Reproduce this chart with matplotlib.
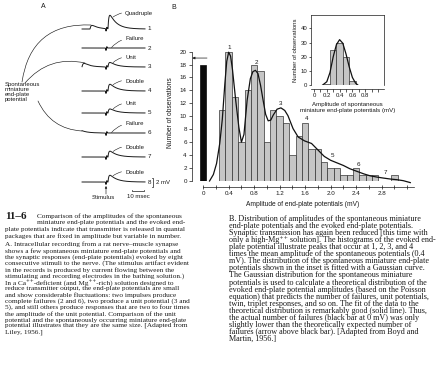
import numpy as np
import matplotlib
matplotlib.use('Agg')
import matplotlib.pyplot as plt
from matplotlib.ticker import MultipleLocator

W, H = 441, 373

# ── Data: evoked end-plate potential histogram (panel B) ─────────────────────
epp_bin_mv = [0.3, 0.4, 0.5, 0.6, 0.7, 0.8, 0.9, 1.0, 1.1, 1.2, 1.3, 1.4, 1.5, 1.6,
              1.7, 1.8, 1.9, 2.0, 2.1, 2.2, 2.3, 2.4, 2.5, 2.6, 2.7, 2.8, 2.9, 3.0]
epp_counts = [11, 20, 13, 6, 14, 18, 17, 6, 11, 10, 9, 4, 7, 9,
              5, 5, 3, 2, 2, 1, 1, 2, 1, 1, 1, 0, 0, 1]
failures_observed = 18
failures_expected = 19

fit_mv = [0.10, 0.16, 0.21, 0.26, 0.30, 0.34, 0.37, 0.40, 0.43, 0.46, 0.51, 0.56,
          0.60, 0.64, 0.69, 0.74, 0.78, 0.82, 0.86, 0.90, 0.94, 0.98, 1.02, 1.06,
          1.10, 1.16, 1.22, 1.28, 1.33, 1.41, 1.49, 1.59, 1.70, 1.80, 1.90, 2.00,
          2.10, 2.20, 2.30, 2.41, 2.52, 2.62, 2.73, 2.83, 2.94, 3.04, 3.14, 3.25]
fit_count = [0.0, 1.0, 2.7, 5.8, 9.5, 15.0, 18.5, 19.9, 19.3, 17.2, 12.5, 8.3,
             6.0, 7.2, 12.5, 15.8, 16.9, 17.1, 16.6, 14.8, 12.5, 10.3, 9.3, 9.4,
             10.2, 11.1, 11.3, 10.9, 10.1, 8.1, 6.8, 6.2, 5.8, 4.8, 3.8, 3.2,
             2.8, 2.4, 1.9, 1.5, 1.1, 0.8, 0.6, 0.45, 0.3, 0.2, 0.05, -0.25]

peak_names = ['1', '2', '3', '4', '5', '6', '7']
peak_mv = [0.41, 0.83, 1.22, 1.62, 2.03, 2.43, 2.86]
peak_count = [20.7, 18.3, 11.9, 9.6, 4.0, 2.5, 1.3]

# ── Data: spontaneous miniature potentials (inset) ───────────────────────────
mini_bin_mv = [0.2, 0.3, 0.4, 0.5, 0.6]
mini_counts = [1, 25, 30, 20, 3]
mini_fit_mv = [0.13, 0.20, 0.25, 0.30, 0.35, 0.40, 0.45, 0.50, 0.55, 0.60, 0.65, 0.69]
mini_fit_count = [0, 2.5, 9, 20, 28.5, 32, 29.5, 22, 13, 5.5, 1.5, 0]

# ── Data: panel A records ─────────────────────────────────────────────────────
trace_names = ['Quadruple', 'Failure', 'Unit', 'Double', 'Unit', 'Failure', 'Double', 'Double']
trace_amp_mv = [3.0, 0.0, 1.0, 1.5, 0.9, 0.0, 1.3, 1.5]
# spontaneous minis: (trace index, onset in px, amplitude mV)
minis = [(0, 90, 0.8), (2, 82, 0.8), (5, 77, 0.7)]

caption_title = [
    'Comparison of the amplitudes of the spontaneous',
    'miniature end-plate potentials and the evoked end-',
]
caption_left = [
    'plate potentials indicate that transmitter is released in quantal',
    'packages that are fixed in amplitude but variable in number.',
]
caption_a = [
    'A. Intracellular recording from a rat nerve\u2013muscle synapse',
    'shows a few spontaneous miniature end-plate potentials and',
    'the synaptic responses (end-plate potentials) evoked by eight',
    'consecutive stimuli to the nerve. (The stimulus artifact evident',
    'in the records is produced by current flowing between the',
    'stimulating and recording electrodes in the bathing solution.)',
    'In a Ca\u207a\u207a-deficient (and Mg\u207a\u207a-rich) solution designed to',
    'reduce transmitter output, the end-plate potentials are small',
    'and show considerable fluctuations: two impulses produce',
    'complete failures (2 and 6), two produce a unit potential (3 and',
    '5), and still others produce responses that are two to four times',
    'the amplitude of the unit potential. Comparison of the unit',
    'potential and the spontaneously occurring miniature end-plate',
    'potential illustrates that they are the same size. [Adapted from',
    'Liley, 1956.]',
]
caption_b = [
    'B. Distribution of amplitudes of the spontaneous miniature',
    'end-plate potentials and the evoked end-plate potentials.',
    'Synaptic transmission has again been reduced [this time with',
    'only a high-Mg\u207a\u207a solution]. The histograms of the evoked end-',
    'plate potential illustrate peaks that occur at 1, 2, 3, and 4',
    'times the mean amplitude of the spontaneous potentials (0.4',
    'mV). The distribution of the spontaneous miniature end-plate',
    'potentials shown in the inset is fitted with a Gaussian curve.',
    'The Gaussian distribution for the spontaneous miniature',
    'potentials is used to calculate a theoretical distribution of the',
    'evoked end-plate potential amplitudes (based on the Poisson',
    'equation) that predicts the number of failures, unit potentials,',
    'twin, triplet responses, and so on. The fit of the data to the',
    'theoretical distribution is remarkably good (solid line). Thus,',
    'the actual number of failures (black bar at 0 mV) was only',
    'slightly lower than the theoretically expected number of',
    'failures (arrow above black bar). [Adapted from Boyd and',
    'Martin, 1956.]',
]

SERIF = ['Liberation Serif', 'DejaVu Serif']
SANS = ['Liberation Sans', 'DejaVu Sans']
INK = '#1a1a1a'


def frac(x0, y0, x1, y1):
    return [x0 / W, 1 - y1 / H, (x1 - x0) / W, (y1 - y0) / H]


fig = plt.figure(figsize=(W / 100, H / 100), dpi=100)
fig.patch.set_facecolor('white')

# ── Panel A (drawn in pixel coordinates) ──────────────────────────────────────
axa = fig.add_axes([0, 0, 1, 1])
axa.set_xlim(0, W)
axa.set_ylim(H, 0)
axa.axis('off')

PX_PER_MV = 4.5
trace_base = [29, 48, 67, 91, 113, 133, 157, 182]
x = np.linspace(80, 145, 600)


def epp(xs, x0, amp, rise=0.9, decay=7.0):
    t = np.clip(xs - x0, 0, None)
    w = (1 - np.exp(-t / rise)) * np.exp(-t / decay)
    tt = np.linspace(0, 40, 2000)
    peak = ((1 - np.exp(-tt / rise)) * np.exp(-tt / decay)).max()
    return amp * w / peak


for i, (name, amp) in enumerate(zip(trace_names, trace_amp_mv)):
    base = trace_base[i]
    v = epp(x, 108.0, amp)
    for (ti, x0, a) in minis:
        if ti == i:
            v = v + epp(x, x0, a, rise=1.2, decay=6.0)
    # stimulus artifact
    v = v - 0.55 * np.exp(-((x - 106.0) / 0.35) ** 2) + 0.3 * np.exp(-((x - 106.9) / 0.3) ** 2)
    xs = x[x >= 82]
    vs = v[x >= 82]
    axa.plot(xs, base - vs * PX_PER_MV, color=INK, lw=0.7)
    axa.text(147.5, base, str(i + 1), fontsize=4.5, family=SANS, va='center', ha='left', color=INK)
    ly = base - max(9.5, amp * PX_PER_MV + 1.5)
    tx = 111.5 + (1.5 if amp > 0 else 0)
    ty = base - amp * PX_PER_MV * 0.85 - 0.5
    axa.annotate(name, xy=(tx, ty), xytext=(125, ly), fontsize=4.3, family=SANS,
                 va='center', ha='left', color=INK,
                 arrowprops=dict(arrowstyle='-', lw=0.4, color=INK, shrinkA=0.5, shrinkB=0,
                                 connectionstyle='arc3,rad=0.25'))

axa.text(43, 7, 'A', fontsize=5, family=SANS, ha='center', va='center', color=INK)
axa.text(5, 92, 'Spontaneous\nminiature\nend-plate\npotential', fontsize=4.3, family=SANS,
         ha='left', va='center', linespacing=1.05, color=INK)
axa.annotate('', xy=(91, 25), xytext=(22, 82),
             arrowprops=dict(arrowstyle='-', lw=0.45, color=INK, shrinkA=0, shrinkB=0,
                             connectionstyle='arc3,rad=-0.45'))
axa.annotate('', xy=(85, 63), xytext=(25, 83),
             arrowprops=dict(arrowstyle='-', lw=0.45, color=INK, shrinkA=0, shrinkB=0,
                             connectionstyle='arc3,rad=-0.3'))
axa.annotate('', xy=(82, 131), xytext=(38, 101),
             arrowprops=dict(arrowstyle='-', lw=0.45, color=INK, shrinkA=0, shrinkB=0,
                             connectionstyle='arc3,rad=0.3'))

# stimulus marker
axa.annotate('', xy=(106, 186), xytext=(106, 194),
             arrowprops=dict(arrowstyle='-|>', lw=0.45, color=INK, mutation_scale=3,
                             shrinkA=0, shrinkB=0))
axa.text(103, 197.5, 'Stimulus', fontsize=4.3, family=SANS, ha='center', va='center', color=INK)

# scale bars
axa.plot([151.5, 153, 153, 151.5], [178, 178, 187, 187], color=INK, lw=0.5)
axa.text(155.5, 182.5, '2 mV', fontsize=4.3, family=SANS, va='center', ha='left', color=INK)
axa.plot([132, 132, 144, 144], [189.5, 191, 191, 189.5], color=INK, lw=0.5)
axa.text(138, 196, '10 msec', fontsize=4.3, family=SANS, ha='center', va='center', color=INK)

# ── Panel B: main histogram ───────────────────────────────────────────────────
ax = fig.add_axes(frac(191.7, 45.1, 413.5, 181))
ax.set_facecolor('none')
ax.bar(epp_bin_mv, epp_counts, width=0.1, color='#c6c6c6', edgecolor='#333333', linewidth=0.5)
ax.bar([0.0], [failures_observed], width=0.1, color='#0b0b0b', edgecolor='#0b0b0b', linewidth=0.5)
ax.plot(fit_mv, fit_count, color='#111111', lw=0.9, clip_on=False)
for n, px_, py_ in zip(peak_names, peak_mv, peak_count):
    ax.text(px_, py_, n, fontsize=4.5, family=SANS, ha='center', va='center', color=INK)
ax.annotate('', xy=(-0.17, failures_expected), xytext=(0.06, failures_expected),
            arrowprops=dict(arrowstyle='-|>', lw=0.5, color=INK, mutation_scale=3.5,
                            shrinkA=0, shrinkB=0))
ax.set_xlim(-0.18, 3.3)
ax.set_ylim(0, 21)
for s in ['top', 'right']:
    ax.spines[s].set_visible(False)
ax.spines['left'].set_bounds(0, 20)
ax.spines['bottom'].set_bounds(0, 3.3)
ax.spines['bottom'].set_position(('outward', 4))
for s in ['left', 'bottom']:
    ax.spines[s].set_linewidth(0.5)
    ax.spines[s].set_color(INK)
ax.set_xticks([0, 0.4, 0.8, 1.2, 1.6, 2.0, 2.4, 2.8])
ax.set_xticklabels(['0', '0.4', '0.8', '1.2', '1.6', '2.0', '2.4', '2.8'])
ax.xaxis.set_minor_locator(MultipleLocator(0.2))
ax.set_yticks(range(0, 21, 2))
ax.tick_params(axis='both', which='both', labelsize=4.5, width=0.5, length=2, pad=1.5,
               color=INK, labelcolor=INK)
ax.tick_params(axis='x', which='both', direction='inout', length=3)
for lab in ax.get_xticklabels() + ax.get_yticklabels():
    lab.set_family(SANS)
ax.set_xlabel('Amplitude of end-plate potentials (mV)', fontsize=4.8, family=SANS,
              labelpad=4, color=INK)
ax.set_ylabel('Number of observations', fontsize=4.8, family=SANS, labelpad=4, color=INK)
fig.text(174 / W, 1 - 7.5 / H, 'B', fontsize=5, family=SANS, ha='center', va='center', color=INK)

# ── Panel B: inset ────────────────────────────────────────────────────────────
axi = fig.add_axes(frac(311, 15, 384, 85.3))
axi.set_facecolor('white')
axi.bar(mini_bin_mv, mini_counts, width=0.1, color='#c6c6c6', edgecolor='#333333', linewidth=0.5)
axi.plot(mini_fit_mv, mini_fit_count, color='#111111', lw=0.9)
axi.axhline(0, color=INK, lw=0.5)
axi.set_xlim(-0.047, 1.094)
axi.set_ylim(0, 49.3)
for s in axi.spines.values():
    s.set_linewidth(0.5)
    s.set_color(INK)
axi.spines['bottom'].set_position(('outward', 3))
axi.set_xticks([0, 0.2, 0.4, 0.6, 0.8])
axi.set_xticklabels(['0', '0.2', '0.4', '0.6', '0.8'])
axi.xaxis.set_minor_locator(MultipleLocator(0.1))
axi.set_yticks([0, 10, 20, 30, 40])
axi.tick_params(axis='both', which='both', labelsize=4.3, width=0.5, length=1.8, pad=1,
                color=INK, labelcolor=INK)
for lab in axi.get_xticklabels() + axi.get_yticklabels():
    lab.set_family(SANS)
axi.set_xlabel('Amplitude of spontaneous\nminiature end-plate potentials (mV)', fontsize=4.4,
               family=SANS, labelpad=2.5, linespacing=1.2, color=INK)
axi.set_ylabel('Number of observations', fontsize=4.3, family=SANS, labelpad=2, color=INK)

# ── Captions ──────────────────────────────────────────────────────────────────
CAP_L = 5.25
CAP_R = 5.9
fig.text(5 / W, 1 - 216.5 / H, '11\u20136', fontsize=8, family=SERIF, fontweight='bold',
         ha='left', va='center', color=INK)
for k, line in enumerate(caption_title):
    fig.text(37 / W, 1 - (216.5 + 6.4 * k) / H, line, fontsize=CAP_L, family=SERIF,
             ha='left', va='center', color=INK)
for k, line in enumerate(caption_left):
    fig.text(5 / W, 1 - (229.3 + 6.4 * k) / H, line, fontsize=CAP_L, family=SERIF,
             ha='left', va='center', color=INK)
for k, line in enumerate(caption_a):
    fig.text(5 / W, 1 - (244.5 + 6.3 * k) / H, line, fontsize=CAP_L, family=SERIF,
             ha='left', va='center', color=INK)
for k, line in enumerate(caption_b):
    fig.text(229 / W, 1 - (219 + 7.06 * k) / H, line, fontsize=CAP_R, family=SERIF,
             ha='left', va='center', color=INK)

fig.savefig('out.png', dpi=100, facecolor='white')
